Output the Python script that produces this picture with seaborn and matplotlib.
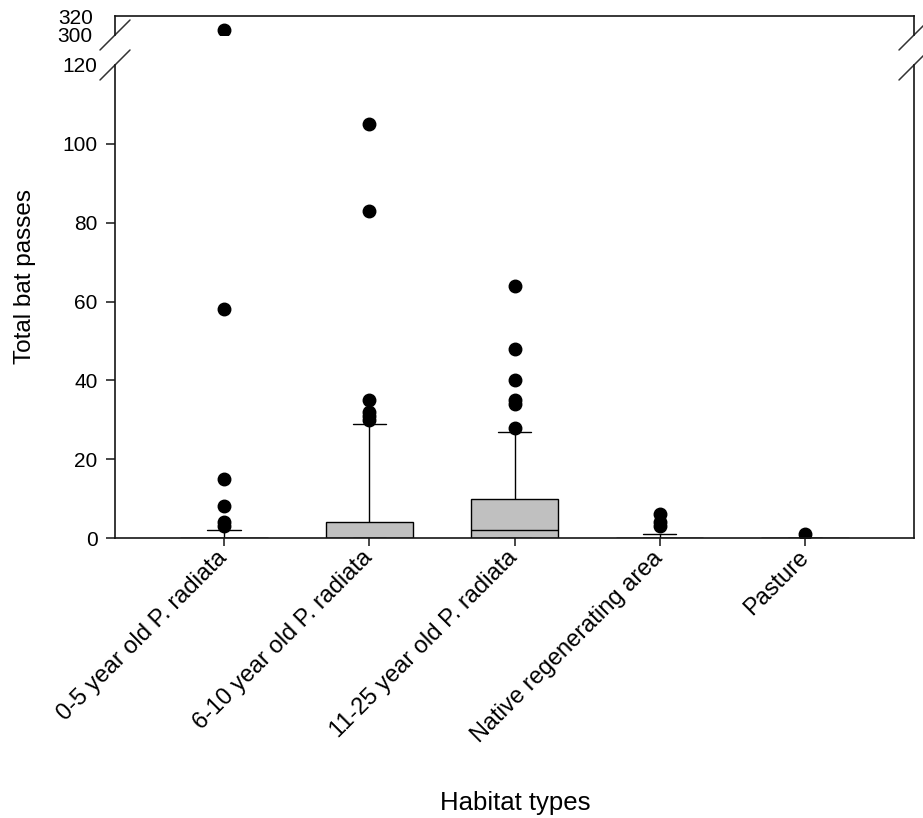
import pandas as pd
import matplotlib.pyplot as plt
import seaborn as sns

# habitat categories, in plotting order
habitats = [
    '0-5 year old P. radiata',
    '6-10 year old P. radiata',
    '11-25 year old P. radiata',
    'Native regenerating area',
    'Pasture'
]

# total bat passes per recording night (estimated from the box plot)
passes_0_5 = [
    0, 0, 0, 0, 0, 0, 0, 0, 0, 0, 0, 0, 0, 0, 0, 0, 0, 0, 0, 0,
    0, 0, 0, 0, 0, 0, 0, 0, 0, 0, 0, 0, 0, 0, 0, 0, 0, 0, 0, 0,
    0, 0, 0, 0, 0, 0, 1, 1, 1, 1, 2, 2, 2, 2, 3, 4, 8, 15, 58, 305
]
passes_6_10 = [
    0, 0, 0, 0, 0, 0, 0, 0, 0, 0, 0, 0, 0, 0, 0, 0, 0, 0, 0, 0,
    0, 0, 0, 0, 0, 0, 0, 0, 0, 0, 0, 0, 1, 1, 1, 1, 2, 2, 2, 2,
    3, 3, 3, 4, 4, 4, 5, 6, 8, 10, 12, 15, 20, 29, 30, 31, 32, 35, 83, 105
]
passes_11_25 = [
    0, 0, 0, 0, 0, 0, 0, 0, 0, 0, 0, 0, 0, 0, 0, 0, 0, 0, 0, 0,
    1, 1, 1, 1, 1, 1, 1, 2, 2, 2, 2, 2, 2, 2, 3, 3, 4, 4, 5, 6,
    6, 7, 8, 9, 10, 10, 11, 12, 14, 15, 18, 20, 24, 27, 28, 34, 35, 40, 48, 64
]
passes_native = [
    0, 0, 0, 0, 0, 0, 0, 0, 0, 0, 0, 0, 0, 0, 0, 0, 0, 0, 0, 0,
    0, 0, 0, 0, 1, 1, 1, 3, 4, 6
]
passes_pasture = [
    0, 0, 0, 0, 0, 0, 0, 0, 0, 0, 0, 0, 0, 0, 0, 0, 0, 0, 0, 0,
    0, 0, 0, 0, 0, 0, 0, 0, 0, 1
]

groups = [passes_0_5, passes_6_10, passes_11_25, passes_native, passes_pasture]
df = pd.DataFrame({
    'habitat': [h for h, g in zip(habitats, groups) for _ in g],
    'passes': [v for g in groups for v in g]
})

sns.set_theme(style='ticks')
plt.rcParams['font.family'] = ['Liberation Sans', 'DejaVu Sans']
plt.rcParams['text.color'] = 'black'
plt.rcParams['xtick.labelcolor'] = 'black'
plt.rcParams['ytick.labelcolor'] = 'black'

W, H = 923, 818
fig = plt.figure(figsize=(W / 100, H / 100), dpi=100)

# broken y axis: large lower panel + thin upper panel
left, right = 115 / W, 914 / W
ax_lo = fig.add_axes([left, 1 - 538 / H, right - left, (538 - 65) / H])
ax_hi = fig.add_axes([left, 1 - 35 / H, right - left, (35 - 16) / H], sharex=ax_lo)

line_col = '#151515'
box_kws = dict(
    data=df, x='habitat', y='passes', order=habitats,
    color='#c0c0c0', linecolor='black', linewidth=1.0,
    width=0.6, whis=(10, 90), capwidths=0.23,
    flierprops=dict(marker='o', markerfacecolor='black',
                    markeredgecolor='black', markersize=9),
)
for ax in (ax_lo, ax_hi):
    sns.boxplot(ax=ax, **box_kws)
    ax.set_xlabel('')
    ax.set_ylabel('')
    for s in ax.spines.values():
        s.set_linewidth(1.2)
        s.set_color(line_col)

ax_lo.set_xlim(-0.75, 4.75)
ax_lo.set_ylim(0, 120)
ax_hi.set_ylim(300, 320)

ax_lo.set_yticks([0, 20, 40, 60, 80, 100, 120])
ax_lo.set_yticklabels(['0', '20', '40', '60', '80', '100', '120'])
ax_hi.set_yticks([300, 320])

ax_lo.spines['top'].set_visible(False)
ax_hi.spines['bottom'].set_visible(False)

ax_lo.tick_params(axis='y', length=6.5, width=1.1, pad=6, labelsize=15, color=line_col)
ax_lo.tick_params(axis='x', length=6, width=1.1, pad=6, labelsize=17, color=line_col)
ax_hi.tick_params(axis='y', length=0, pad=16, labelsize=15)
ax_hi.tick_params(axis='x', length=0, labelbottom=False)

# hide the 120 tick mark (the break sits there) but keep its label
ax_lo.yaxis.get_major_ticks()[-1].tick1line.set_visible(False)

for lab in ax_lo.get_xticklabels():
    lab.set_rotation(45)
    lab.set_ha('right')
    lab.set_va('center')
    lab.set_rotation_mode('anchor')

# break marks on both sides
dx = 15 / (914 - 115)
dy_lo = 15 / (538 - 65)
dy_hi = 15 / (35 - 16)
mk = dict(color='#333333', lw=1.1, clip_on=False)
for xa in (0, 1):
    ax_lo.plot([xa - dx, xa + dx], [1 - dy_lo, 1 + dy_lo], transform=ax_lo.transAxes, **mk)
    ax_hi.plot([xa - dx, xa + dx], [-dy_hi, dy_hi], transform=ax_hi.transAxes, **mk)

fig.text(25 / W, 1 - 277 / H, 'Total bat passes', rotation=90,
         ha='center', va='center', fontsize=17.5)
fig.text(515 / W, 1 - 810 / H, 'Habitat types', ha='center', va='baseline', fontsize=18.5)

fig.savefig('out.png', dpi=100)
